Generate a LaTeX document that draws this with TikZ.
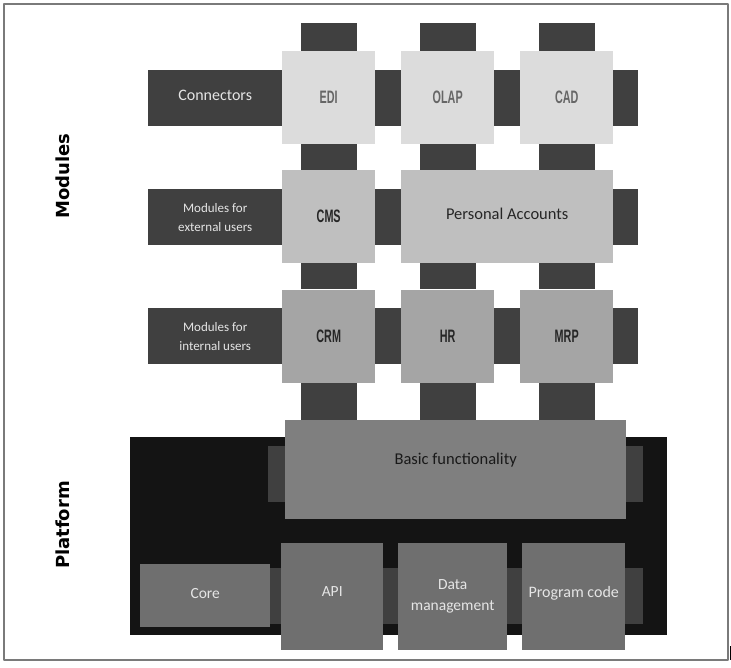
\documentclass[tikz,border=0pt]{standalone}
\usepackage{fontspec}
\setmainfont{Carlito}
\newfontfamily\narrowbf[FakeStretch=0.6]{Liberation Sans Bold}
\newfontfamily\headbf{DejaVu Sans Bold}
\definecolor{tabgray}{HTML}{404040}
\definecolor{rowone}{HTML}{DCDCDC}
\definecolor{rowtwo}{HTML}{BFBFBF}
\definecolor{rowthree}{HTML}{A5A5A5}
\definecolor{platblack}{HTML}{141414}
\definecolor{basicgray}{HTML}{7F7F7F}
\definecolor{lowgray}{HTML}{6F6F6F}
\definecolor{framegray}{HTML}{7A7A7A}
\tikzset{
  box/.style={inner sep=0pt, align=center, anchor=north west},
  side/.style={box, fill=tabgray, text=white!90!black, minimum width=134, minimum height=56},
  mod/.style={box, minimum width=93, minimum height=93, font=\narrowbf\fontsize{18}{20}\selectfont},
  low/.style={box, fill=lowgray, text=white!90!black, font=\fontsize{15.5}{21}\selectfont},
  head/.style={rotate=90, font=\headbf\fontsize{18}{20}\selectfont}
}
\begin{document}
\begin{tikzpicture}[x=1pt, y=-1pt, line join=round]
\useasboundingbox (0,0) rectangle (731,667);
\draw[framegray, line width=2pt] (4,4) rectangle (728,660);
\draw[black, line width=1pt] (730.5,646) -- (730.5,660);
% vertical tabs
\foreach \x in {300.5,419.5,538.5}{
  \fill[tabgray] (\x,23) rectangle ++(56,28);
  \fill[tabgray] (\x,144) rectangle ++(56,26);
  \fill[tabgray] (\x,263) rectangle ++(56,26);
  \fill[tabgray] (\x,382) rectangle ++(56,38);
}
% horizontal tabs
\foreach \y in {70,189,308}{
  \fill[tabgray] (375,\y) rectangle ++(26,56);
  \fill[tabgray] (494,\y) rectangle ++(26,56);
  \fill[tabgray] (613,\y) rectangle ++(25,56);
}
% modules
\node[side, font=\fontsize{16}{18}\selectfont] (conn) at (148,70) {\raisebox{6pt}{Connectors}};
\node[mod, fill=rowone, text=black!60] (edi) at (282,51) {EDI};
\node[mod, fill=rowone, text=black!60] (olap) at (401,51) {OLAP};
\node[mod, fill=rowone, text=black!60] (cad) at (520,51) {CAD};
\node[side, font=\fontsize{13}{19}\selectfont] (ext) at (148,189) {Modules for\\external users};
\node[mod, fill=rowtwo, text=black!85] (cms) at (282,170) {CMS};
\node[box, fill=rowtwo, text=black!85, minimum width=212, minimum height=93, font=\fontsize{16.5}{20}\selectfont] (pers) at (401,170) {\raisebox{5pt}{Personal Accounts}};
\node[side, font=\fontsize{13}{19}\selectfont] (int) at (148,308) {Modules for\\internal users};
\node[mod, fill=rowthree, text=black!85] (crm) at (282,289.5) {CRM};
\node[mod, fill=rowthree, text=black!85] (hr) at (401,289.5) {HR};
\node[mod, fill=rowthree, text=black!85] (mrp) at (520,289.5) {MRP};
% platform
\fill[platblack] (130,437) rectangle (667,635);
\fill[tabgray] (268,446) rectangle (643,502);
\fill[tabgray] (270,568) rectangle (643,624);
\node[box, fill=basicgray, minimum width=341, minimum height=99] (basic) at (285,420) {};
\node[text=black!90, font=\fontsize{16.5}{20}\selectfont] (basictxt) at ([yshift=-40pt]basic.north) {Basic functionality};
\node[low, minimum width=130, minimum height=63] (core) at (140,564) {\raisebox{4pt}{Core}};
\node[low, minimum width=102, minimum height=107] (api) at (281,543) {\raisebox{10pt}{API}};
\node[low, minimum width=109, minimum height=107] (data) at (398,543) {Data\\management};
\node[low, minimum width=103, minimum height=107, font=\fontsize{16}{21}\selectfont] (code) at (522,543) {\raisebox{10pt}{Program code}};
\node[head] (modules) at (63,176) {Modules};
\node[head] (platform) at (63,525) {Platform};
\end{tikzpicture}
\end{document}
